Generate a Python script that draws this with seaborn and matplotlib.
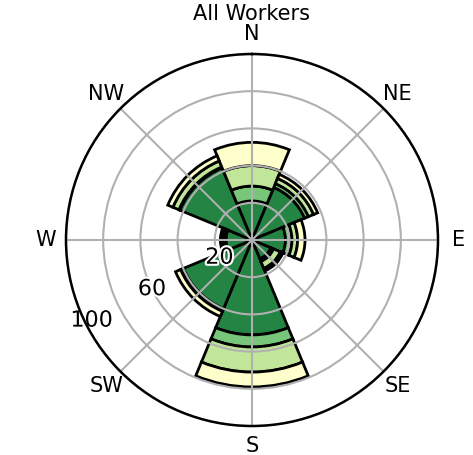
import numpy as np
import seaborn as sns
import matplotlib.pyplot as plt
import matplotlib.patheffects as pe
from matplotlib.transforms import ScaledTranslation

# compass directions, clockwise from north
directions = ['N', 'NE', 'E', 'SE', 'S', 'SW', 'W', 'NW']
angles_deg = [0, 45, 90, 135, 180, 225, 270, 315]

# stacked bands, innermost first
band_1 = [21.0, 30.6, 18.0, 11.0, 51.0, 40.0, 14.0, 42.0]
band_2 = [8.0, 2.2, 3.5, 1.5, 6.5, 0.5, 0.5, 0.5]
band_3 = [11.0, 3.0, 3.0, 4.0, 13.5, 1.0, 1.0, 3.5]
band_4 = [12.5, 2.4, 4.0, 1.5, 8.0, 3.0, 1.5, 3.0]
bands = [band_1, band_2, band_3, band_4]

r_ticks = [20, 40, 60, 80, 100]
r_tick_labels = ['20', '', '60', '', '100']

colors = sns.color_palette(['#238443', '#78c679', '#c2e699', '#ffffcc'])

fig = plt.figure(figsize=(4.73, 4.55), dpi=100)
ax = fig.add_axes([0.1395, 0.0637, 0.7865, 0.8176], projection='polar')
ax.set_theta_zero_location('N')
ax.set_theta_direction(-1)

theta = np.deg2rad(angles_deg)
bottom = np.zeros(len(directions))
for vals, col in zip(bands, colors):
    ax.bar(theta, vals, width=np.pi / 4, bottom=bottom, color=col,
           edgecolor='black', linewidth=2)
    bottom += np.array(vals)

ax.set_ylim(0, 100)
ax.set_yticks(r_ticks)
ax.set_yticklabels(r_tick_labels, fontsize=16)
ax.set_rlabel_position(245)
shift = ScaledTranslation(-0.13, -0.12, fig.dpi_scale_trans)
for lbl in ax.get_yticklabels():
    lbl.set_path_effects([pe.withStroke(linewidth=3, foreground='white')])
    lbl.set_zorder(5)
    lbl.set_transform(lbl.get_transform() + shift)

ax.set_xticks(theta)
ax.set_xticklabels(directions, fontsize=15)
ax.tick_params(axis='x', pad=4)
ax.grid(True, color='#b0b0b0', linewidth=1.5)
ax.spines['polar'].set_linewidth(1.8)

ax.set_title('All Workers', fontsize=15, pad=2)

fig.savefig('out.png', dpi=100)
